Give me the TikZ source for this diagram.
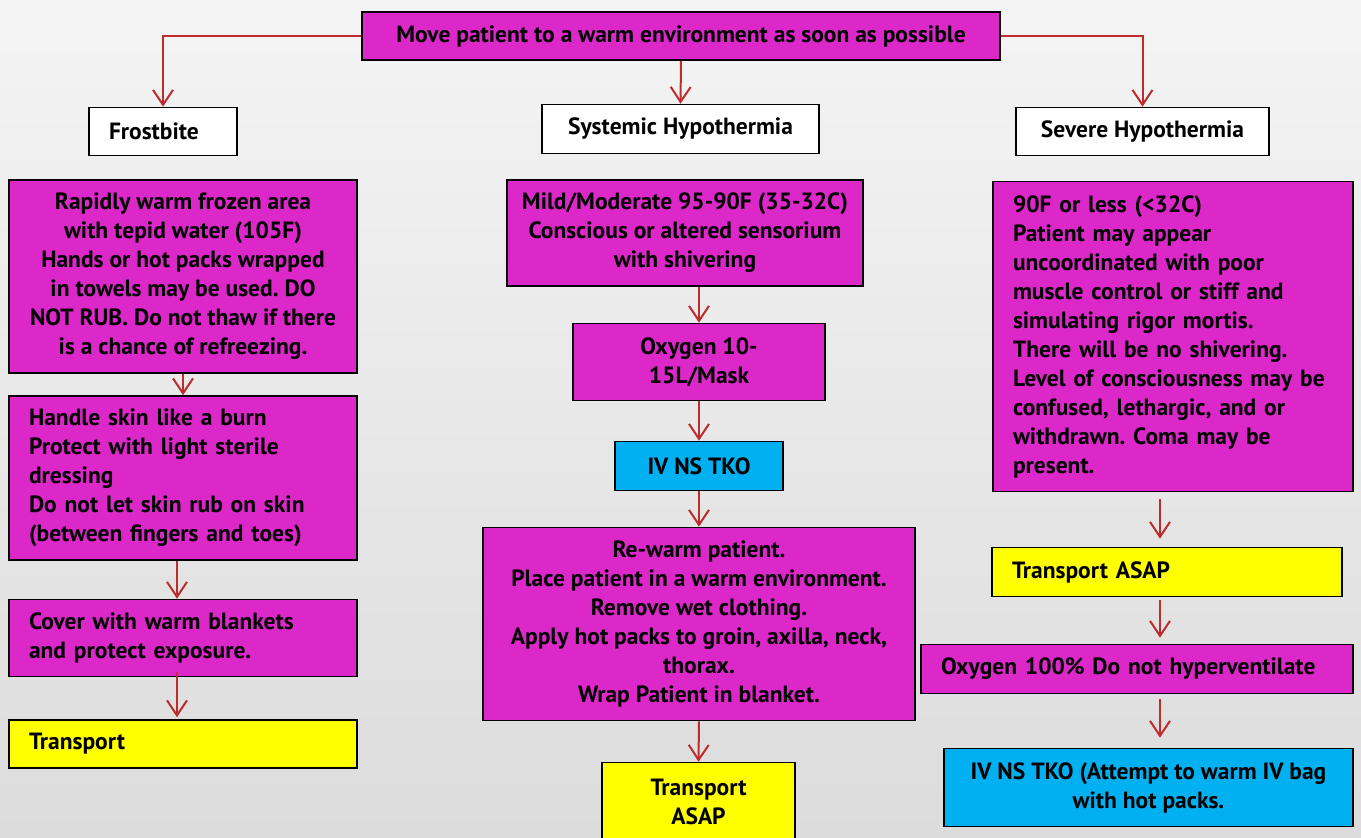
\documentclass[tikz,border=0pt]{standalone}
\usepackage{fontspec}
\setmainfont{PT Sans}
\usetikzlibrary{arrows.meta}
\definecolor{boxmag}{RGB}{220,40,200}
\definecolor{boxblue}{RGB}{0,176,240}
\definecolor{boxyel}{RGB}{255,255,0}
\definecolor{arrred}{RGB}{190,45,45}
\definecolor{bgtop}{RGB}{244,244,244}
\definecolor{bgbot}{RGB}{220,220,220}
\frenchspacing
\begin{document}
\begin{tikzpicture}[x=1pt,y=-1pt,
  base/.style={draw=black, line width=1.6pt, inner sep=0pt, rectangle,
    font=\fontsize{23.5}{29}\selectfont\bfseries, text=black},
  mag/.style={base, fill=boxmag},
  blu/.style={base, fill=boxblue},
  yel/.style={base, fill=boxyel},
  wht/.style={base, fill=white},
  sz/.style 2 args={minimum width=#1pt, minimum height=#2pt},
  lft/.style={align=left, text width=#1pt-40pt},
  ctr/.style={align=center},
  arr/.style={draw=arrred, line width=2pt,
    -{Straight Barb[length=15pt,width=20pt,line width=2pt]}}]

% background
\useasboundingbox (0,0) rectangle (1361,838);
\shade[top color=bgtop, bottom color=bgbot] (0,0) rectangle (1361,838);

% top box and the three headings
\node[mag, sz={638}{48}, ctr] (move) at (681,36)
  {Move patient to a warm environment as soon as possible};
\node[wht, sz={148}{48}, lft=148] (frost) at (163,131.5) {Frostbite};
\node[wht, sz={277}{49}, ctr] (sys) at (680.5,129) {Systemic Hypothermia};
\node[wht, sz={253}{48}, ctr] (sev) at (1142.5,131.5) {Severe Hypothermia};

% frostbite column
\node[mag, sz={348}{193}, ctr] (f1) at (183,276.5)
  {Rapidly warm frozen area\\ with tepid water (105F)\\ Hands or hot packs wrapped\\
   in towels may be used. DO\\ NOT RUB. Do not thaw if there\\ is a chance of refreezing.};
\node[mag, sz={348}{164}, lft=348] (f2) at (183,478)
  {\mbox{Handle skin like a burn}\\ \mbox{Protect with light sterile}\\ \mbox{dressing}\\
   \mbox{Do not let skin rub on skin}\\ \mbox{(between fingers and toes)}};
\node[mag, sz={348}{77}, lft=348] (f3) at (183,638)
  {\mbox{Cover with warm blankets}\\ \mbox{and protect exposure.}};
\node[yel, sz={348}{48}, lft=348] (f4) at (183,744) {Transport};

% systemic hypothermia column
\node[mag, sz={356}{106}, ctr] (s1) at (685,233)
  {Mild/Moderate 95-90F (35-32C)\\ Conscious or altered sensorium\\ with shivering};
\node[mag, sz={252}{77}, ctr] (s2) at (699,362) {Oxygen 10-\\ 15L/Mask};
\node[blu, sz={168}{49}, ctr] (s3) at (699,466) {IV NS TKO};
\node[mag, sz={432}{193}, ctr] (s4) at (699,624)
  {Re-warm patient.\\ Place patient in a warm environment.\\ Remove wet clothing.\\
   Apply hot packs to groin, axilla, neck,\\ thorax.\\ Wrap Patient in blanket.};
\node[yel, sz={193}{78}, ctr] (s5) at (698.5,801.5) {Transport\\ ASAP};

% severe hypothermia column
\node[mag, sz={360}{310}, lft=360] (v1) at (1173,336.5)
  {\mbox{90F or less (<32C)}\\ \mbox{Patient may appear}\\ \mbox{uncoordinated with poor}\\
   \mbox{muscle control or stiff and}\\ \mbox{simulating rigor mortis.}\\
   \mbox{There will be no shivering.}\\ \mbox{Level of consciousness may be}\\
   \mbox{confused, lethargic, and or}\\ \mbox{withdrawn. Coma may be}\\ \mbox{present.}};
\node[yel, sz={350}{49}, lft=350] (v2) at (1167,572) {Transport ASAP};
\node[mag, sz={432}{49}, lft=432] (v3) at (1137,669)
  {\mbox{Oxygen 100\% Do not hyperventilate}};
\node[blu, sz={409}{78}, ctr] (v4) at (1148.5,787.5)
  {IV NS TKO (Attempt to warm IV bag\\ with hot packs.};

\coordinate (rcol) at (1160,0);

% connectors
\draw[arr] (move.west) -| (frost.north);
\draw[arr] (move.east) -| (sev.north);
\draw[arr] (move.south) -- (sys.north);

\draw[arr] (f1.south) -- (f2.north);
\draw[arr] ([xshift=-6pt]f2.south) -- ([xshift=-6pt]f3.north);
\draw[arr] ([xshift=-6pt,yshift=5pt]f3.south) -- ([xshift=-6pt,yshift=2pt]f4.north);

\draw[arr] (s2.north |- s1.south) -- (s2.north);
\draw[arr] (s2.south) -- (s3.north);
\draw[arr] (s3.south) -- (s4.north);
\draw[arr] (s4.south) -- (s5.north);

\draw[arr, shorten <=7pt, shorten >=8pt] (v1.south -| rcol) -- (v2.north -| rcol);
\draw[arr, shorten <=3pt, shorten >=6pt] (v2.south -| rcol) -- (v3.north -| rcol);
\draw[arr, shorten <=5pt, shorten >=10pt] (v3.south -| rcol) -- (v4.north -| rcol);
\end{tikzpicture}
\end{document}
